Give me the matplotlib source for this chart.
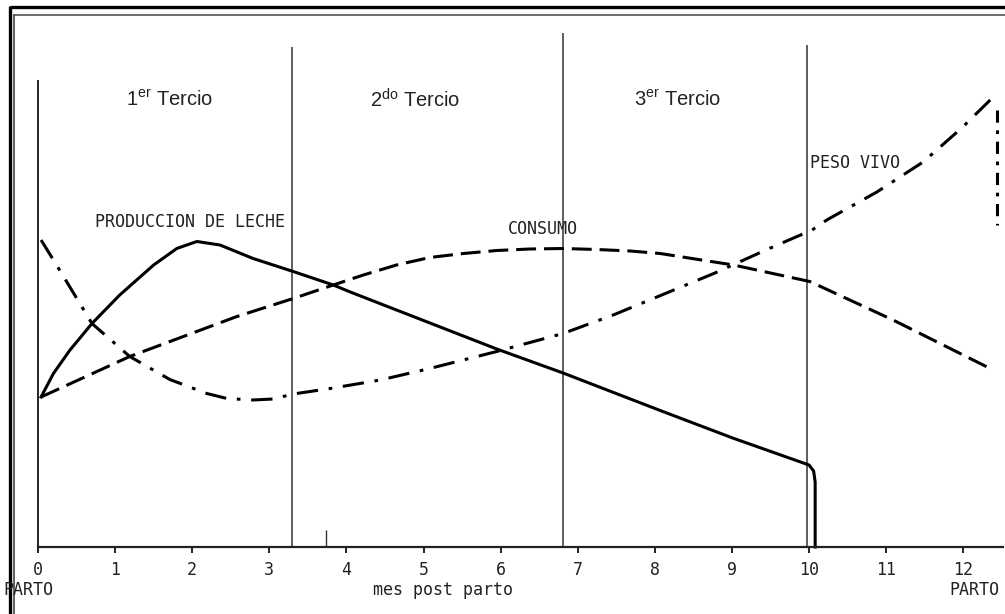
#!/usr/bin/env python

# Lactation curves: milk yield, intake and live weight over the calving interval

import matplotlib
matplotlib.use("Agg")
import matplotlib.pyplot as plt

plt.rcParams["mathtext.fontset"] = "custom"
plt.rcParams["mathtext.rm"] = "Liberation Sans"

leche_mes = [0.04, 0.20, 0.415, 0.70, 1.06, 1.50, 1.80, 2.06, 2.36, 2.79, 3.31,
             3.83, 4.05, 5.95, 6.81, 8.07, 9.01, 10.0, 10.06, 10.08, 10.08]
leche_val = [30.0, 34.7, 39.4, 44.7, 50.4, 56.4, 59.7, 61.1, 60.4, 57.7, 55.1,
             52.4, 51.0, 39.6, 34.8, 27.3, 21.8, 16.4, 15.2, 13.0, 0]

consumo_mes = [0.04, 1.19, 2.58, 3.31, 3.83, 4.22, 4.65, 5.08, 5.52, 5.95,
               6.38, 6.81, 7.25, 7.68, 8.07, 9.02, 10.01, 11.09, 12.35]
consumo_val = [30.0, 38.1, 46.1, 49.7, 52.4, 54.4, 56.4, 57.9, 58.7, 59.3,
               59.6, 59.7, 59.5, 59.2, 58.7, 56.4, 53.1, 45.4, 35.7]

peso_mes = [0.04, 0.20, 0.37, 0.70, 1.19, 1.71, 2.19, 2.45, 2.79, 3.05, 3.31,
            3.79, 4.44, 5.08, 5.95, 6.81, 7.46, 7.98, 8.78, 9.47, 10.04,
            10.23, 10.88, 11.48, 11.98, 12.39]
peso_val = [61.4, 57.4, 53.1, 44.7, 38.1, 33.5, 30.7, 29.7, 29.4, 29.6, 30.6,
            31.7, 33.4, 35.7, 39.1, 42.7, 46.4, 49.7, 54.8, 59.6, 63.4,
            65.4, 71.0, 77.0, 83.8, 90.0]
peso_caida_mes = [12.44, 12.44]
peso_caida_val = [87.4, 64.4]

tercio_limites = [3.30, 6.81, 9.97]
tercio_altos = [100.0, 102.8, 100.4]
tercio_textos = [r"1$^{\mathrm{er}}$ Tercio", r"2$^{\mathrm{do}}$ Tercio",
                 r"3$^{\mathrm{er}}$ Tercio"]
tercio_centros = [1.71, 4.89, 8.29]

meses = list(range(0, 13))

fig = plt.figure(figsize=(10.05, 6.14), dpi=100, facecolor="white")

# frame drawn in pixel coordinates
ax_bg = fig.add_axes([0, 0, 1, 1])
ax_bg.set_xlim(0, 1005)
ax_bg.set_ylim(614, 0)
ax_bg.set_axis_off()
ax_bg.plot([10, 1005], [7, 7], color="black", lw=2.4, solid_capstyle="butt")
ax_bg.plot([14, 1005], [15, 15], color="#555555", lw=1.2)
ax_bg.plot([10, 10], [6, 614], color="black", lw=2.4, solid_capstyle="butt")
ax_bg.plot([14, 14], [15, 614], color="#444444", lw=1.2)

# main axes (pixel 20..1003 across, 20..560 down)
x0, x1 = 20 / 1005, 1003 / 1005
y0, y1 = (614 - 560) / 614, (614 - 20) / 614
ax = fig.add_axes([x0, y0, x1 - x0, y1 - y0])
ax.set_xlim((20 - 38) / 77.1, (1003 - 38) / 77.1)
ax.set_ylim(-2.6, 105.4)
ax.patch.set_alpha(0)
for s in ["left", "right", "top"]:
    ax.spines[s].set_visible(False)
ax.spines["bottom"].set_position(("data", 0))
ax.spines["bottom"].set_bounds(0, 12.52)
ax.spines["bottom"].set_linewidth(1.6)
ax.spines["bottom"].set_color("#222222")
ax.set_yticks([])
ax.set_xticks(meses)
ax.set_xticklabels([str(m) for m in meses], family="DejaVu Sans Mono",
                   fontsize=12, color="#222222")
ax.tick_params(axis="x", direction="out", length=4, width=1.4, pad=6,
               color="#222222")

# vertical boundaries
ax.vlines([0], 0, [93.4], color="#222222", lw=1.4)
ax.vlines(tercio_limites, 0, tercio_altos, color="#333333", lw=1.1)
ax.vlines([3.74], 0, [3.4], color="#333333", lw=1.0)

# curves
ax.plot(leche_mes, leche_val, color="black", lw=2.2, solid_joinstyle="round")
ax.plot(consumo_mes, consumo_val, color="black", lw=2.2, ls=(0, (6.5, 2.6)))
ax.plot(peso_mes, peso_val, color="black", lw=2.2, ls=(0, (7, 3.5, 1.2, 3.5)))
ax.plot(peso_caida_mes, peso_caida_val, color="black", lw=2.2,
        ls=(0, (4, 2.5, 1.2, 2.5)))

# labels
for xc, txt in zip(tercio_centros, tercio_textos):
    ax.text(xc, 89.4, txt, ha="center", va="center", fontsize=14.5,
            family="Liberation Sans", color="#222222")

mono = dict(family="DejaVu Sans Mono", fontsize=12, color="#222222",
            ha="center", va="center")
ax.text(1.97, 65.0, "PRODUCCION DE LECHE", **mono)
ax.text(6.55, 63.6, "CONSUMO", **mono)
ax.text(10.6, 76.8, "PESO VIVO", **mono)

ax.text(-0.12, -8.6, "PARTO", **mono)
ax.text(12.14, -8.6, "PARTO", **mono)
ax.text(5.25, -8.6, "mes post parto", **mono)

fig.savefig("out.png", dpi=100)
